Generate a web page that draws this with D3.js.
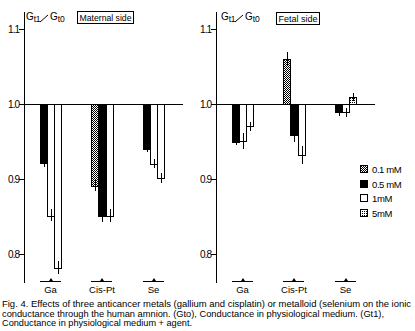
<!DOCTYPE html>
<html>
<head>
<meta charset="utf-8">
<script src="https://cdn.jsdelivr.net/npm/d3@7"></script>
<style>
  body { margin: 0; background: #fff; }
  svg { display: block; }
  text { font-family: "Liberation Sans", Arial, sans-serif; fill: #000; }
</style>
</head>
<body>
<div id="chart"></div>
<script>
const categories = ["Ga", "Cis-Pt", "Se"];
const concentrations = ["0.1 mM", "0.5 mM", "1mM", "5mM"];
const yTicks = [0.8, 0.9, 1.0, 1.1];

// maternal side: concentration drawn, ratio Gt1/Gt0 and error per bar
const maternalConc = [["0.5 mM", "1mM", "1mM"], ["0.1 mM", "0.5 mM", "1mM"], ["0.5 mM", "1mM", "1mM"]];
const maternalValues = [[0.921, 0.851, 0.781], [0.891, 0.851, 0.851], [0.94, 0.92, 0.901]];
const maternalErr = [[0.005, 0.008, 0.009], [0.0076, 0.0085, 0.009], [0.004, 0.006, 0.0067]];

// fetal side
const fetalConc = [["0.5 mM", "1mM", "1mM"], ["0.1 mM", "0.5 mM", "1mM"], ["0.5 mM", "1mM", "5mM"]];
const fetalValues = [[0.949, 0.95, 0.97], [1.06, 0.958, 0.932], [0.989, 0.989, 1.009]];
const fetalErr = [[0.0035, 0.0105, 0.006], [0.009, 0.0093, 0.012], [0.005, 0.006, 0.005]];

const caption = [
  "Fig. 4.  Effects of three anticancer metals (gallium and cisplatin) or metalloid (selenium on the ionic",
  "conductance through the human amnion.  (Gto), Conductance in physiological medium.  (Gt1),",
  "Conductance in physiological medium + agent."
];

const W = 415, H = 331;
const svg = d3.select("#chart").append("svg")
    .attr("width", W)
    .attr("height", H)
    .attr("shape-rendering", "crispEdges");

const defs = svg.append("defs");
let p1 = defs.append("pattern").attr("id", "pat01")
    .attr("patternUnits", "userSpaceOnUse").attr("width", 2).attr("height", 2);
p1.append("rect").attr("width", 2).attr("height", 2).attr("fill", "#fff");
p1.append("rect").attr("x", 0).attr("y", 0).attr("width", 1).attr("height", 1).attr("fill", "#000");
p1.append("rect").attr("x", 1).attr("y", 1).attr("width", 1).attr("height", 1).attr("fill", "#000");

let p5 = defs.append("pattern").attr("id", "pat5")
    .attr("patternUnits", "userSpaceOnUse").attr("width", 2).attr("height", 2);
p5.append("rect").attr("width", 2).attr("height", 2).attr("fill", "#fff");
p5.append("rect").attr("x", 0).attr("y", 0).attr("width", 1).attr("height", 1).attr("fill", "#000");

const fills = {"0.1 mM": "url(#pat01)", "0.5 mM": "#000", "1mM": "#fff", "5mM": "url(#pat5)"};

const y = d3.scaleLinear().domain([0.8, 1.1]).range([253.5, 29]);

let drawPanel = (axisX, conc, values, errs, title, titleBox, gLabelX) => {
    const g = svg.append("g");
    const x = d3.scalePoint().domain(categories).range([axisX + 26.5, axisX + 129.5]);
    const inner = d3.scaleBand().domain([0, 1, 2]).range([-11, 11]);

    // y axis
    g.append("line")
        .attr("x1", axisX + 0.5).attr("x2", axisX + 0.5)
        .attr("y1", 12).attr("y2", 283)
        .attr("stroke", "#000");
    g.selectAll(".tick").data(yTicks).join("line")
        .attr("x1", axisX - 5).attr("x2", axisX)
        .attr("y1", d => Math.round(y(d)) + 0.5).attr("y2", d => Math.round(y(d)) + 0.5)
        .attr("stroke", "#000");
    g.selectAll(".tl").data(yTicks).join("text")
        .attr("x", axisX - 5)
        .attr("y", d => Math.round(y(d)) + 4)
        .attr("text-anchor", "end")
        .attr("font-size", 10)
        .attr("letter-spacing", -1)
        .text(d => d3.format(".1f")(d));

    // reference line at 1.0
    g.append("line")
        .attr("x1", axisX).attr("x2", axisX + 159)
        .attr("y1", Math.round(y(1)) + 0.5).attr("y2", Math.round(y(1)) + 0.5)
        .attr("stroke", "#000");

    // bars with error lines
    categories.forEach((cat, i) => {
        const gx = x(cat);
        values[i].forEach((v, j) => {
            const x0 = Math.round(gx + inner(j));
            const w = Math.round(inner.bandwidth());
            const y0 = Math.round(Math.min(y(v), y(1)));
            const h = Math.round(Math.abs(y(v) - y(1)));
            g.append("rect")
                .attr("x", x0 + 0.5).attr("y", y0 + 0.5)
                .attr("width", w).attr("height", h)
                .attr("fill", fills[conc[i][j]])
                .attr("stroke", "#000");
            const cx = x0 + Math.round(w / 2) + 0.5;
            g.append("line")
                .attr("x1", cx).attr("x2", cx)
                .attr("y1", Math.round(y(v - errs[i][j]))).attr("y2", Math.round(y(v + errs[i][j])))
                .attr("stroke", "#000");
        });

        // category marker under the axis
        g.append("line")
            .attr("x1", Math.round(gx - 11)).attr("x2", Math.round(gx + 10))
            .attr("y1", 281.5).attr("y2", 281.5)
            .attr("stroke", "#000");
        g.append("path")
            .attr("d", `M${Math.round(gx) - 2},281 L${Math.round(gx)},278 L${Math.round(gx) + 2},281 Z`)
            .attr("fill", "#000")
            .attr("shape-rendering", "auto");
        g.append("text")
            .attr("x", gx)
            .attr("y", 293)
            .attr("text-anchor", "middle")
            .attr("font-size", 9.5)
            .text(cat);
    });

    // Gt1 / Gt0 label
    const lbl = g.append("text").attr("x", gLabelX).attr("y", 19.5).attr("font-size", 10);
    lbl.append("tspan").text("G");
    lbl.append("tspan").attr("font-size", 8.5).attr("dy", 2.5).attr("letter-spacing", -0.5).text("t1");
    lbl.append("tspan").attr("dy", -2.5).attr("dx", 10).text("G");
    lbl.append("tspan").attr("font-size", 8.5).attr("dy", 2.5).text("t0");
    g.append("line")
        .attr("x1", gLabelX + 14).attr("y1", 22)
        .attr("x2", gLabelX + 22).attr("y2", 15)
        .attr("stroke", "#000")
        .attr("shape-rendering", "auto");

    // panel title in a box
    g.append("rect")
        .attr("x", titleBox[0] + 0.5).attr("y", titleBox[1] + 0.5)
        .attr("width", titleBox[2]).attr("height", titleBox[3])
        .attr("fill", "none").attr("stroke", "#000");
    g.append("text")
        .attr("x", titleBox[0] + titleBox[2] / 2 + 0.5)
        .attr("y", titleBox[1] + 9.5)
        .attr("text-anchor", "middle")
        .attr("font-size", 9.5)
        .attr("textLength", titleBox[2] - 4)
        .attr("lengthAdjust", "spacingAndGlyphs")
        .text(title);
};

drawPanel(24, maternalConc, maternalValues, maternalErr, "Maternal side", [77, 11, 56, 12], 26);
drawPanel(216, fetalConc, fetalValues, fetalErr, "Fetal side", [276, 12, 43, 12], 221);

// legend
const legend = svg.append("g").attr("transform", "translate(360,165)");
legend.selectAll("rect").data(concentrations).join("rect")
    .attr("x", 0.5).attr("y", (d, i) => Math.round(i * 14.6) + 0.5)
    .attr("width", 7).attr("height", 7)
    .attr("fill", d => fills[d])
    .attr("stroke", "#000");
legend.selectAll("text").data(concentrations).join("text")
    .attr("x", 12).attr("y", (d, i) => Math.round(i * 14.6) + 8)
    .attr("font-size", 9.5)
    .attr("letter-spacing", -0.4)
    .text(d => d);

// caption
svg.selectAll(".cap").data(caption).join("text")
    .attr("x", 2)
    .attr("y", (d, i) => 307 + i * 9.5)
    .attr("font-size", 9.5)
    .attr("textLength", (d, i) => [409, 382, 190][i])
    .attr("lengthAdjust", "spacingAndGlyphs")
    .text(d => d);
</script>
</body>
</html>
